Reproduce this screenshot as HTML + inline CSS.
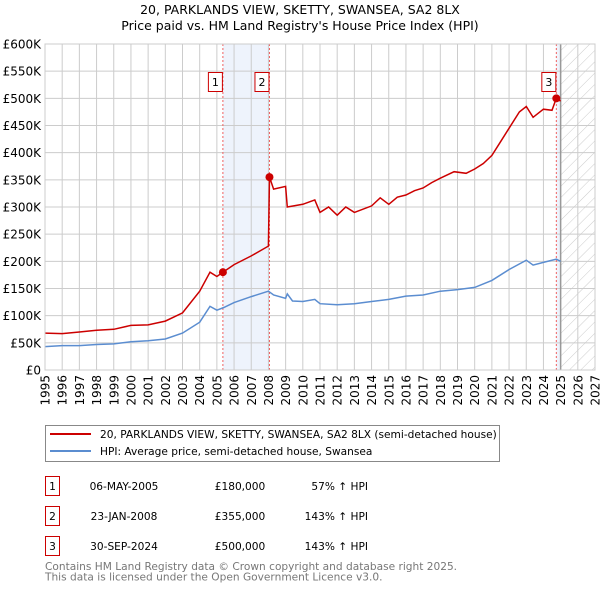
<!DOCTYPE html>
<html><head><meta charset="utf-8"><style>
body{margin:0;background:#fff;font-family:"Liberation Sans","DejaVu Sans",sans-serif}
svg text{font-family:"DejaVu Sans","Liberation Sans",sans-serif}
</style></head><body>
<svg id="c" width="600" height="590" xmlns="http://www.w3.org/2000/svg">
<defs><pattern id="hatch" width="8" height="8" patternUnits="userSpaceOnUse" patternTransform="rotate(45)"><line x1="0" y1="0" x2="0" y2="8" stroke="#ccc" stroke-width="1"/></pattern></defs>
<text x="300" y="14" text-anchor="middle" font-size="12.5">20, PARKLANDS VIEW, SKETTY, SWANSEA, SA2 8LX</text>
<text x="300" y="30" text-anchor="middle" font-size="12.5">Price paid vs. HM Land Registry's House Price Index (HPI)</text>
<g id="plot"></g>
<g>
<rect x="45.5" y="425.5" width="454" height="36" fill="#fff" stroke="#888"/>
<line x1="50" y1="434" x2="91" y2="434" stroke="#cc0000" stroke-width="2"/>
<text x="100" y="438" font-size="10.6">20, PARKLANDS VIEW, SKETTY, SWANSEA, SA2 8LX (semi-detached house)</text>
<line x1="50" y1="451" x2="91" y2="451" stroke="#5b8dd0" stroke-width="2"/>
<text x="100" y="455" font-size="10.6">HPI: Average price, semi-detached house, Swansea</text>
</g>
<g id="tbl" font-size="10.6"></g>
<text x="45" y="570" font-size="10.6" fill="#777">Contains HM Land Registry data © Crown copyright and database right 2025.</text>
<text x="45" y="580.5" font-size="10.6" fill="#777">This data is licensed under the Open Government Licence v3.0.</text>
</svg>
<script>
const hpiYears=[1995,1996,1997,1998,1999,2000,2001,2002,2003,2004,2004.6,2005,2005.4,2006,2007,2008,2008.3,2009,2009.1,2009.4,2010,2010.7,2011,2012,2013,2014,2015,2016,2017,2018,2019,2020,2021,2022,2023,2023.4,2024,2024.75,2025];
const hpiValues=[43000,45000,45000,47000,48000,52000,54000,57000,68000,88000,117000,110000,115000,124000,135000,145000,138000,132000,140000,127000,126000,130000,122000,120000,122000,126000,130000,136000,138000,145000,148000,152000,165000,185000,202000,193000,198000,204000,200000];
const priceYears=[1995,1996,1997,1998,1999,2000,2001,2002,2003,2004,2004.6,2005,2005.35,2006,2007,2008,2008.06,2008.3,2009,2009.1,2010,2010.7,2011,2011.5,2012,2012.5,2013,2014,2014.5,2015,2015.5,2016,2016.5,2017,2017.5,2018,2018.8,2019.5,2020,2020.5,2021,2021.5,2022,2022.6,2023,2023.4,2024,2024.5,2024.75,2025];
const priceValues=[68000,67000,70000,73000,75000,82000,83000,90000,105000,145000,180000,172000,180000,194000,210000,228000,355000,333000,338000,300000,305000,313000,290000,300000,285000,300000,290000,302000,317000,305000,318000,322000,330000,335000,345000,353000,365000,362000,370000,380000,395000,420000,445000,475000,485000,465000,480000,478000,500000,495000];
const saleYears=[2005.35,2008.06,2024.75];
const salePrices=[180000,355000,500000];
const saleDates=["06-MAY-2005","23-JAN-2008","30-SEP-2024"];
const salePriceLabels=["£180,000","£355,000","£500,000"];
const salePct=["57% ↑ HPI","143% ↑ HPI","143% ↑ HPI"];
const yTicks=[0,50000,100000,150000,200000,250000,300000,350000,400000,450000,500000,550000,600000];
const yTickLabels=["£0","£50K","£100K","£150K","£200K","£250K","£300K","£350K","£400K","£450K","£500K","£550K","£600K"];
const xTicks=[1995,1996,1997,1998,1999,2000,2001,2002,2003,2004,2005,2006,2007,2008,2009,2010,2011,2012,2013,2014,2015,2016,2017,2018,2019,2020,2021,2022,2023,2024,2025,2026,2027];

const NS="http://www.w3.org/2000/svg";
const X0=45,X1=595,Y0=370,Y1=44;
const xs=v=>X0+(v-1995)/(2027-1995)*(X1-X0);
const ys=v=>Y0-v/600000*(Y0-Y1);
const plot=document.getElementById('plot');
function mk(tag,attrs,parent){const e=document.createElementNS(NS,tag);for(const k in attrs)e.setAttribute(k,attrs[k]);(parent||plot).appendChild(e);return e;}

let e=mk('rect',{x:xs(saleYears[0]),y:Y1,width:xs(saleYears[1])-xs(saleYears[0]),height:Y0-Y1,fill:'#eef3fc'});


e=mk('rect',{x:xs(saleYears[2]),y:Y1,width:xs(2025)-xs(saleYears[2]),height:Y0-Y1,fill:'#eef3fc'});


e=mk('rect',{x:xs(2025),y:Y1,width:X1-xs(2025),height:Y0-Y1,fill:'url(#hatch)'});



yTicks.forEach((t,i)=>{
  let l=mk('line',{x1:X0,x2:X1,y1:ys(t),y2:ys(t),stroke:'#ccc','stroke-width':1});
  
  
  let tx=mk('text',{x:X0-4,y:ys(t)+4.5,'text-anchor':'end','font-size':12});
  tx.textContent=yTickLabels[i];
  
  
});
xTicks.forEach(t=>{
  let l=mk('line',{x1:xs(t),x2:xs(t),y1:Y1,y2:Y0,stroke:'#ccc','stroke-width':1});
  
  
  let tx=mk('text',{x:0,y:0,'text-anchor':'end','font-size':12,transform:`translate(${xs(t)+4.5},${375}) rotate(-90)`});
  tx.textContent=t;
  
  
});
e=mk('line',{x1:xs(2025),x2:xs(2025),y1:Y1,y2:Y0,stroke:'#999','stroke-width':1.5});



saleYears.forEach((s,i)=>{
  let l=mk('line',{x1:xs(s),x2:xs(s),y1:Y1,y2:Y0,stroke:'#f06060','stroke-width':1,'stroke-dasharray':'2,2'});
  
  
});

const pts=(xa,va)=>xa.map((x,i)=>xs(x).toFixed(1)+','+ys(va[i]).toFixed(1)).join(' ');
e=mk('polyline',{points:pts(hpiYears,hpiValues),fill:'none',stroke:'#5b8dd0','stroke-width':1.5});


e=mk('polyline',{points:pts(priceYears,priceValues),fill:'none',stroke:'#cc0000','stroke-width':1.5});



saleYears.forEach((s,i)=>{
  let c=mk('circle',{cx:xs(s),cy:ys(salePrices[i]),r:4,fill:'#cc0000'});
  
  
  let b=mk('rect',{x:xs(s)-14.5,y:72.5,width:14,height:19,fill:'#fff',stroke:'#cc0000'});
  
  
  let t=mk('text',{x:xs(s)-7.5,y:86,'text-anchor':'middle','font-size':11});
  t.textContent=i+1;
  
  
});
e=mk('rect',{x:X0,y:Y1,width:X1-X0,height:Y0-Y1,fill:'none',stroke:'#ccc'});



const tbl=document.getElementById('tbl');
saleYears.forEach((s,i)=>{
  const cy=486+i*30;
  let b=mk('rect',{x:45.5,y:cy-9.5,width:14,height:19,fill:'#fff',stroke:'#cc0000'},tbl);
  
  
  let n=mk('text',{x:52.5,y:cy+4,'text-anchor':'middle'},tbl);n.textContent=i+1;
  
  
  let d=mk('text',{x:124,y:cy+4,'text-anchor':'middle'},tbl);d.textContent=saleDates[i];
  
  
  let p=mk('text',{x:240,y:cy+4,'text-anchor':'middle'},tbl);p.textContent=salePriceLabels[i];
  
  
  let q=mk('text',{x:368,y:cy+4,'text-anchor':'end'},tbl);q.textContent=salePct[i];
  
  
});
</script>
</body></html>
